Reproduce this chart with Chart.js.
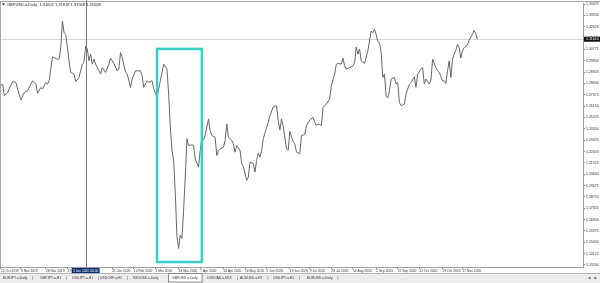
<!DOCTYPE html>
<html>
<head>
<meta charset="utf-8">
<title>GBPUSD.a, Daily</title>
<script src="https://cdn.jsdelivr.net/npm/chart.js@4.4.1/dist/chart.umd.min.js"></script>
<style>
  html, body { margin: 0; padding: 0; background: #fff; }
  #wrap { width: 600px; height: 283px; overflow: hidden; }
</style>
</head>
<body>
<div id="wrap"><canvas id="chart" width="600" height="283"></canvas></div>
<script>
// --- Data ---

const symbolTitle = "GBPUSD.a,Daily  1.31602 1.31818 1.31568 1.31608";

// bar number counted from the first visible bar, and daily close
const barIdx = [
  0, 1, 2, 4, 7, 9, 10, 12, 14, 16, 19, 21, 22, 24, 25, 27, 28, 29, 31, 32,
  34, 35, 36, 37, 38, 39, 40, 41, 42, 44, 45, 47, 49, 50, 51, 52, 53, 54, 55, 56,
  57, 59, 60, 61, 63, 65, 66, 68, 70, 71, 72, 73, 75, 76, 78, 79, 81, 84, 85, 86,
  88, 89, 91, 92, 94, 96, 98, 100, 101, 102, 103, 104, 105, 106, 107, 108, 109, 110, 111, 112,
  113, 115, 116, 117, 119, 120, 121, 122, 123, 125, 126, 127, 129, 130, 131, 132, 134, 135, 136, 137,
  139, 140, 141, 142, 144, 145, 146, 148, 149, 150, 152, 153, 154, 155, 156, 157, 158, 160, 161, 162,
  164, 166, 167, 168, 169, 170, 172, 173, 174, 176, 177, 178, 180, 181, 183, 184, 186, 188, 189, 190,
  191, 193, 194, 196, 198, 199, 201, 202, 203, 205, 206, 207, 208, 210, 212, 213, 214, 215, 216, 217,
  219, 220, 221, 222, 223, 224, 225, 226, 227, 228, 229, 230, 231, 232, 233, 234, 235, 237, 238, 239,
  240, 241, 243, 244, 246, 247, 249, 250, 251, 253, 254, 255, 256, 258, 259, 260, 262, 263, 264, 266,
  267, 268, 269, 270, 271, 272, 273, 274, 275, 276, 277, 278, 279, 281, 282, 284, 285, 286, 287
];

const closes = [
  1.2782, 1.2795, 1.2700, 1.2727, 1.2816, 1.2808, 1.2755, 1.2665, 1.2727, 1.2741, 1.2822, 1.2795, 1.2719, 1.2768, 1.2755, 1.2808, 1.2795, 1.2822, 1.3017, 1.3011,
  1.2998, 1.2998, 1.3093, 1.3309, 1.3214, 1.3201, 1.3093, 1.2985, 1.2890, 1.2877, 1.2816, 1.2849, 1.2958, 1.2971, 1.3106, 1.3080, 1.2985, 1.3039, 1.2958, 1.2998,
  1.2958, 1.2903, 1.2877, 1.2930, 1.2890, 1.2958, 1.3007, 1.2963, 1.2903, 1.2917, 1.3052, 1.3011, 1.2890, 1.2877, 1.2768, 1.2836, 1.2903, 1.2903, 1.2863, 1.2768,
  1.2822, 1.2808, 1.2822, 1.2757, 1.2687, 1.2822, 1.2958, 1.2917, 1.2714, 1.2443, 1.2254, 1.2172, 1.1902, 1.1550, 1.1455, 1.1563, 1.1537, 1.1766, 1.2037, 1.2349,
  1.2294, 1.2300, 1.2294, 1.2186, 1.2118, 1.2254, 1.2349, 1.2341, 1.2376, 1.2511, 1.2416, 1.2376, 1.2362, 1.2213, 1.2254, 1.2267, 1.2280, 1.2335, 1.2471, 1.2362,
  1.2335, 1.2308, 1.2240, 1.2294, 1.2254, 1.2146, 1.2124, 1.2010, 1.2037, 1.2159, 1.2146, 1.2077, 1.2172, 1.2232, 1.2199, 1.2254, 1.2349, 1.2443, 1.2484, 1.2538,
  1.2611, 1.2619, 1.2497, 1.2422, 1.2511, 1.2449, 1.2267, 1.2254, 1.2410, 1.2321, 1.2308, 1.2240, 1.2227, 1.2376, 1.2384, 1.2457, 1.2503, 1.2524, 1.2484, 1.2457,
  1.2471, 1.2457, 1.2605, 1.2633, 1.2674, 1.2782, 1.2877, 1.2958, 1.2963, 1.2958, 1.3007, 1.2944, 1.2917, 1.2930, 1.2944, 1.2971, 1.3098, 1.3039, 1.3080, 1.2985,
  1.2963, 1.3017, 1.3066, 1.3147, 1.3228, 1.3214, 1.3242, 1.3201, 1.3141, 1.3133, 1.3052, 1.2849, 1.2877, 1.2700, 1.2682, 1.2741, 1.2836, 1.2849, 1.2795, 1.2808,
  1.2646, 1.2619, 1.2633, 1.2714, 1.2795, 1.2808, 1.2855, 1.2768, 1.2877, 1.2917, 1.2930, 1.2795, 1.2836, 1.2795, 1.2828, 1.2998, 1.2930, 1.2903, 1.2890, 1.2822,
  1.2822, 1.2800, 1.2903, 1.2985, 1.2849, 1.2998, 1.3039, 1.3071, 1.3120, 1.3093, 1.3007, 1.3066, 1.3093, 1.3115, 1.3153, 1.3201, 1.3234, 1.3206, 1.3161
];

// time axis labels and the bar they sit on
const tickDates = [
  "22 Oct 2019", "8 Nov 2019", "28 Nov 2019", "17 Dec 2019", "21 Jan 2020", "10 Feb 2020",
  "2 Mar 2020", "18 Mar 2020", "7 Apr 2020", "24 Apr 2020", "14 May 2020", "2 Jun 2020",
  "19 Jun 2020", "9 Jul 2020", "28 Jul 2020", "14 Aug 2020", "2 Sep 2020", "22 Sep 2020",
  "12 Oct 2020", "29 Oct 2020", "17 Nov 2020"
];
const tickBars = [0, 12, 27, 40, 67, 80, 93, 107, 120, 134, 147, 160, 174, 186, 199, 212, 226, 239, 252, 266, 278];

// price scale labels
const priceTicks = [
  1.34475, 1.33550, 1.32625, 1.31700, 1.30775, 1.29850, 1.28925, 1.28000,
  1.27075, 1.26150, 1.25225, 1.24300, 1.23375, 1.22450, 1.21525, 1.20600,
  1.19675, 1.18750, 1.17825, 1.16900, 1.15975, 1.15050, 1.14125, 1.13200
];

// crosshair bar and its date box
const crossBar = 51;
const crossLabel = "3 Jan 2020 00:00";

// highlighted crash zone (bars and price span)
const boxBars = [94, 121];
const boxPrices = [1.3082, 1.1344];

// chart tabs along the bottom
const tabNames = [
  "EURJPY.a,Daily", "GBPJPY.a,H1", "USDJPY.a,H1", "USDCHF.a,H1", "NZDUSD.a,Daily",
  "GBPUSD.a,Daily", "USDCAD.a,M15", "AUDUSD.a,H1", "USDJPY.a,H1", "EURUSD.a,Daily"
];
const activeTab = 5;

// --- Layout ---

const FONT = "'Liberation Sans', Arial, sans-serif";
const tabX = [3, 40, 72, 100, 133, 172, 207, 240, 273, 307];
const lastPrice = closes[closes.length - 1];

function $(id) {
  return document.getElementById(id);
}

const overlay = {
  id: "overlay",
  beforeDatasetsDraw(chart) {
    const { ctx, chartArea: a, scales: { x, y } } = chart;
    ctx.save();
    ctx.lineWidth = 1;
    // current price line
    const py = Math.round(y.getPixelForValue(lastPrice)) + 0.5;
    ctx.strokeStyle = "#d4d4d4";
    ctx.beginPath();
    ctx.moveTo(a.left, py);
    ctx.lineTo(a.right, py);
    ctx.stroke();
    // crosshair
    const vx = Math.round(x.getPixelForValue(crossBar)) + 0.5;
    ctx.strokeStyle = "#7a7a7a";
    ctx.beginPath();
    ctx.moveTo(vx, 0);
    ctx.lineTo(vx, a.bottom);
    ctx.stroke();
    ctx.restore();
  },
  afterDatasetsDraw(chart) {
    const { ctx, scales: { x, y } } = chart;
    const x0 = x.getPixelForValue(boxBars[0]);
    const x1 = x.getPixelForValue(boxBars[1]);
    const y0 = y.getPixelForValue(boxPrices[0]);
    const y1 = y.getPixelForValue(boxPrices[1]);
    ctx.save();
    ctx.strokeStyle = "#33d1c4";
    ctx.lineWidth = 2.5;
    ctx.strokeRect(x0, y0, x1 - x0, y1 - y0);
    ctx.restore();
  },
  afterDraw(chart) {
    const { ctx, chartArea: a, scales: { x, y } } = chart;
    const W = chart.width, H = chart.height;
    ctx.save();

    // frame
    ctx.strokeStyle = "#a8a8a8";
    ctx.lineWidth = 1;
    ctx.beginPath();
    ctx.moveTo(0, 1.5); ctx.lineTo(W, 1.5);
    ctx.moveTo(0.5, 1.5); ctx.lineTo(0.5, a.bottom);
    ctx.stroke();

    // title
    ctx.fillStyle = "#222";
    ctx.beginPath();
    ctx.moveTo(2, 3.5); ctx.lineTo(5, 3.5); ctx.lineTo(3.5, 5.5);
    ctx.fill();
    ctx.font = `4px ${FONT}`;
    ctx.textBaseline = "middle";
    ctx.textAlign = "left";
    ctx.fillText(symbolTitle, 7, 4.5);

    // current price box on the price scale
    const py = y.getPixelForValue(lastPrice);
    ctx.fillStyle = "#101010";
    ctx.fillRect(a.right + 1, py - 2.5, 16, 5);
    ctx.fillStyle = "#fff";
    ctx.font = `3.5px ${FONT}`;
    ctx.fillText(lastPrice.toFixed(5), a.right + 3, py);

    // crosshair date box
    const vx = x.getPixelForValue(crossBar);
    ctx.fillStyle = "#0c2a6e";
    ctx.fillRect(vx - 14, a.bottom + 1, 28, 5.5);
    ctx.fillStyle = "#fff";
    ctx.font = `3.3px ${FONT}`;
    ctx.textAlign = "center";
    ctx.fillText(crossLabel, vx, a.bottom + 3.8);

    // tab bar
    const tTop = H - 10;
    ctx.fillStyle = "#ededed";
    ctx.fillRect(0, tTop, W, 10);
    ctx.strokeStyle = "#b4b4b4";
    ctx.beginPath();
    ctx.moveTo(0, tTop + 0.5); ctx.lineTo(W, tTop + 0.5);
    ctx.stroke();
    ctx.font = `3.4px ${FONT}`;
    ctx.textAlign = "left";
    tabNames.forEach((name, i) => {
      const tx = tabX[i];
      const tw = ctx.measureText(name).width;
      if (i === activeTab) {
        ctx.fillStyle = "#fff";
        ctx.fillRect(tx - 4, tTop, tw + 8, 9);
        ctx.strokeStyle = "#8a8a8a";
        ctx.strokeRect(tx - 4 + 0.5, tTop + 0.5, tw + 8, 8.5);
      }
      ctx.fillStyle = "#333";
      ctx.fillText(name, tx, tTop + 5);
      if (i !== activeTab && i + 1 !== activeTab) {
        ctx.fillText("|", tx + tw + 5, tTop + 5);
      }
    });
    // scroll arrows
    ctx.fillStyle = "#666";
    ctx.beginPath();
    ctx.moveTo(588, tTop + 5); ctx.lineTo(590.5, tTop + 3.5); ctx.lineTo(590.5, tTop + 6.5);
    ctx.moveTo(597, tTop + 5); ctx.lineTo(594.5, tTop + 3.5); ctx.lineTo(594.5, tTop + 6.5);
    ctx.fill();

    ctx.restore();
  }
};

function initChart() {
  const points = barIdx.map((b, i) => ({ x: b, y: closes[i] }));

  new Chart($("chart").getContext("2d"), {
    type: "line",
    data: {
      datasets: [{
        label: "GBPUSD.a close",
        data: points,
        borderColor: "#666666",
        borderWidth: 1,
        pointRadius: 0,
        tension: 0,
        fill: false
      }]
    },
    options: {
      responsive: false,
      animation: false,
      devicePixelRatio: 1,
      layout: { padding: { top: 2, bottom: 10, left: 0, right: 0 } },
      plugins: { legend: { display: false }, tooltip: { enabled: false } },
      scales: {
        x: {
          type: "linear",
          min: -0.6,
          max: 350.6,
          afterBuildTicks: (s) => { s.ticks = tickBars.map(v => ({ value: v })); },
          afterFit: (s) => { s.height = 6; },
          border: { color: "#a0a0a0" },
          grid: { drawOnChartArea: false, tickLength: 2, color: "#888" },
          ticks: {
            autoSkip: false,
            maxRotation: 0,
            minRotation: 0,
            align: "start",
            padding: 0,
            color: "#333",
            font: { family: FONT, size: 3.3 },
            callback: (v, i) => tickDates[i]
          }
        },
        y: {
          position: "right",
          min: 1.13035,
          max: 1.34556,
          afterBuildTicks: (s) => { s.ticks = priceTicks.map(v => ({ value: v })); },
          afterFit: (s) => { s.width = 17; },
          border: { color: "#9a9a9a" },
          grid: { drawOnChartArea: false, tickLength: 2, color: "#888" },
          ticks: {
            autoSkip: false,
            padding: 1,
            color: "#333",
            font: { family: FONT, size: 3.5 },
            callback: (v) => Number(v).toFixed(5)
          }
        }
      }
    },
    plugins: [overlay]
  });
}

window.addEventListener("DOMContentLoaded", initChart);
</script>
</body>
</html>
